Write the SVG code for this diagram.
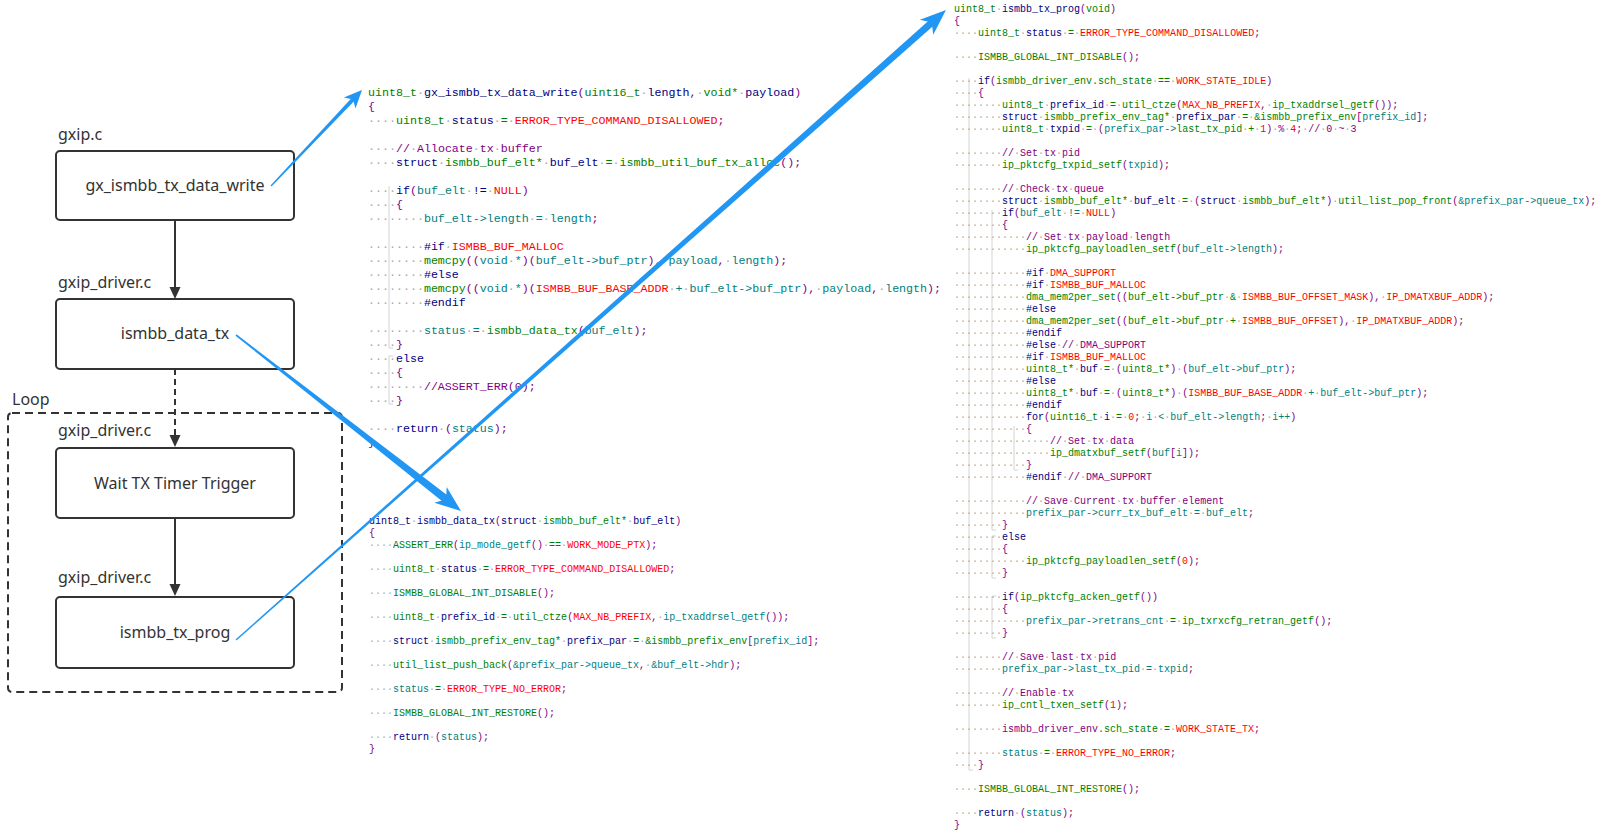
<svg xmlns="http://www.w3.org/2000/svg" width="1600" height="834" viewBox="0 0 1600 834">
<style>
.lbl{font-family:"Noto Sans","Liberation Sans",sans-serif;font-size:16px;fill:#333}
.ctr{text-anchor:middle}
.box{fill:#fff;stroke:#333;stroke-width:2}
.c1{font-family:"Liberation Mono","DejaVu Sans Mono",monospace;font-size:11.65px;fill:#000080}
.c2{font-family:"Liberation Mono","DejaVu Sans Mono",monospace;font-size:10px;fill:#000080}
.g{fill:#008000}.t{fill:#008080}.p{fill:#800080}.r{fill:#ff0000}.w{fill:#a8a8a8}
.guide{fill:none;stroke:#d4d4d4;stroke-width:1}
.blue{fill:#2196f3}
.dk{stroke:#333;stroke-width:2;fill:none}
.dkh{fill:#333}
</style>

<!-- left flow -->
<g id="loop">
<rect x="8" y="413" width="334" height="279" rx="4" fill="none" stroke="#333" stroke-width="2" stroke-dasharray="8 5"/>
<text class="lbl" x="12" y="405">Loop</text>
</g>
<g id="node-write">
<text class="lbl" x="58" y="140">gxip.c</text>
<rect class="box" x="56" y="151" width="238" height="69" rx="4"/>
<text class="lbl ctr" x="175" y="191">gx_ismbb_tx_data_write</text>
</g>
<g id="node-datatx">
<text class="lbl" x="58" y="288">gxip_driver.c</text>
<rect class="box" x="56" y="299" width="238" height="70" rx="4"/>
<text class="lbl ctr" x="175" y="339">ismbb_data_tx</text>
</g>
<g id="node-wait">
<text class="lbl" x="58" y="436">gxip_driver.c</text>
<rect class="box" x="56" y="448" width="238" height="70" rx="4"/>
<text class="lbl ctr" x="175" y="489">Wait TX Timer Trigger</text>
</g>
<g id="node-prog">
<text class="lbl" x="58" y="583">gxip_driver.c</text>
<rect class="box" x="56" y="597" width="238" height="71" rx="4"/>
<text class="lbl ctr" x="175" y="638">ismbb_tx_prog</text>
</g>

<!-- code block 1 -->
<g id="code-write" class="c1">
<path class="guide" d="M389,186V348H393M393,356H389V404H393"/>
<text x="368" y="96"><tspan class="g">uint8_t</tspan><tspan class="w">·</tspan>gx_ismbb_tx_data_write<tspan class="p">(</tspan><tspan class="g">uint16_t</tspan><tspan class="w">·</tspan>length<tspan class="p">,</tspan><tspan class="w">·</tspan><tspan class="g">void*</tspan><tspan class="w">·</tspan>payload<tspan class="p">)</tspan></text>
<text x="368" y="110"><tspan class="p">{</tspan></text>
<text x="368" y="124"><tspan class="w">····</tspan><tspan class="g">uint8_t</tspan><tspan class="w">·</tspan>status<tspan class="w">·</tspan><tspan class="g">=</tspan><tspan class="w">·</tspan><tspan class="r">ERROR_TYPE_COMMAND_DISALLOWED</tspan><tspan class="p">;</tspan></text>
<text x="368" y="152"><tspan class="w">····</tspan><tspan class="p">//<tspan class="w">·</tspan>Allocate<tspan class="w">·</tspan>tx<tspan class="w">·</tspan>buffer</tspan></text>
<text x="368" y="166"><tspan class="w">····</tspan>struct<tspan class="w">·</tspan><tspan class="g">ismbb_buf_elt*</tspan><tspan class="w">·</tspan>buf_elt<tspan class="w">·</tspan><tspan class="g">=</tspan><tspan class="w">·</tspan><tspan class="g">ismbb_util_buf_tx_alloc</tspan><tspan class="p">();</tspan></text>
<text x="368" y="194"><tspan class="w">····</tspan>if<tspan class="p">(</tspan><tspan class="t">buf_elt</tspan><tspan class="w">·</tspan>!=<tspan class="w">·</tspan><tspan class="r">NULL</tspan><tspan class="p">)</tspan></text>
<text x="368" y="208"><tspan class="w">····</tspan><tspan class="p">{</tspan></text>
<text x="368" y="222"><tspan class="w">········</tspan><tspan class="t">buf_elt-&gt;length</tspan><tspan class="w">·</tspan><tspan class="t">=</tspan><tspan class="w">·</tspan><tspan class="t">length</tspan><tspan class="p">;</tspan></text>
<text x="368" y="250"><tspan class="w">········</tspan>#if<tspan class="w">·</tspan><tspan class="r">ISMBB_BUF_MALLOC</tspan></text>
<text x="368" y="264"><tspan class="w">········</tspan><tspan class="g">memcpy</tspan><tspan class="p">((</tspan><tspan class="t">void</tspan><tspan class="w">·</tspan><tspan class="t">*</tspan><tspan class="p">)(</tspan><tspan class="t">buf_elt-&gt;buf_ptr</tspan><tspan class="p">),</tspan><tspan class="w">·</tspan><tspan class="t">payload</tspan><tspan class="p">,</tspan><tspan class="w">·</tspan><tspan class="t">length</tspan><tspan class="p">);</tspan></text>
<text x="368" y="278"><tspan class="w">········</tspan>#else</text>
<text x="368" y="292"><tspan class="w">········</tspan><tspan class="g">memcpy</tspan><tspan class="p">((</tspan><tspan class="t">void</tspan><tspan class="w">·</tspan><tspan class="t">*</tspan><tspan class="p">)(</tspan><tspan class="r">ISMBB_BUF_BASE_ADDR</tspan><tspan class="w">·</tspan><tspan class="t">+</tspan><tspan class="w">·</tspan><tspan class="t">buf_elt-&gt;buf_ptr</tspan><tspan class="p">),</tspan><tspan class="w">·</tspan><tspan class="t">payload</tspan><tspan class="p">,</tspan><tspan class="w">·</tspan><tspan class="t">length</tspan><tspan class="p">);</tspan></text>
<text x="368" y="306"><tspan class="w">········</tspan>#endif</text>
<text x="368" y="334"><tspan class="w">········</tspan><tspan class="t">status</tspan><tspan class="w">·</tspan><tspan class="t">=</tspan><tspan class="w">·</tspan><tspan class="g">ismbb_data_tx</tspan><tspan class="p">(</tspan><tspan class="t">buf_elt</tspan><tspan class="p">);</tspan></text>
<text x="368" y="348"><tspan class="w">····</tspan><tspan class="p">}</tspan></text>
<text x="368" y="362"><tspan class="w">····</tspan>else</text>
<text x="368" y="376"><tspan class="w">····</tspan><tspan class="p">{</tspan></text>
<text x="368" y="390"><tspan class="w">········</tspan><tspan class="p">//ASSERT_ERR(0);</tspan></text>
<text x="368" y="404"><tspan class="w">····</tspan><tspan class="p">}</tspan></text>
<text x="368" y="432"><tspan class="w">····</tspan>return<tspan class="w">·</tspan><tspan class="p">(</tspan><tspan class="t">status</tspan><tspan class="p">);</tspan></text>
<text x="368" y="446"><tspan class="p">}</tspan></text>
</g>

<!-- code block 2 -->
<g id="code-datatx" class="c2">
<text x="369" y="524">uint8_t<tspan class="w">·</tspan>ismbb_data_tx<tspan class="p">(</tspan>struct<tspan class="w">·</tspan><tspan class="g">ismbb_buf_elt*</tspan><tspan class="w">·</tspan>buf_elt<tspan class="p">)</tspan></text>
<text x="369" y="536"><tspan class="p">{</tspan></text>
<text x="369" y="548"><tspan class="w">····</tspan><tspan class="g">ASSERT_ERR</tspan><tspan class="p">(</tspan><tspan class="t">ip_mode_getf</tspan><tspan class="p">()</tspan><tspan class="w">·</tspan><tspan class="g">==</tspan><tspan class="w">·</tspan><tspan class="r">WORK_MODE_PTX</tspan><tspan class="p">);</tspan></text>
<text x="369" y="572"><tspan class="w">····</tspan><tspan class="g">uint8_t</tspan><tspan class="w">·</tspan>status<tspan class="w">·</tspan><tspan class="g">=</tspan><tspan class="w">·</tspan><tspan class="r">ERROR_TYPE_COMMAND_DISALLOWED</tspan><tspan class="p">;</tspan></text>
<text x="369" y="596"><tspan class="w">····</tspan><tspan class="g">ISMBB_GLOBAL_INT_DISABLE</tspan><tspan class="p">();</tspan></text>
<text x="369" y="620"><tspan class="w">····</tspan><tspan class="g">uint8_t</tspan><tspan class="w">·</tspan>prefix_id<tspan class="w">·</tspan><tspan class="g">=</tspan><tspan class="w">·</tspan><tspan class="g">util_ctze</tspan><tspan class="p">(</tspan><tspan class="r">MAX_NB_PREFIX</tspan><tspan class="p">,</tspan><tspan class="w">·</tspan><tspan class="t">ip_txaddrsel_getf</tspan><tspan class="p">());</tspan></text>
<text x="369" y="644"><tspan class="w">····</tspan>struct<tspan class="w">·</tspan><tspan class="g">ismbb_prefix_env_tag*</tspan><tspan class="w">·</tspan>prefix_par<tspan class="w">·</tspan><tspan class="g">=</tspan><tspan class="w">·</tspan><tspan class="g">&amp;ismbb_prefix_env</tspan><tspan class="p">[</tspan><tspan class="t">prefix_id</tspan><tspan class="p">];</tspan></text>
<text x="369" y="668"><tspan class="w">····</tspan><tspan class="g">util_list_push_back</tspan><tspan class="p">(</tspan><tspan class="t">&amp;prefix_par-&gt;queue_tx</tspan><tspan class="p">,</tspan><tspan class="w">·</tspan><tspan class="t">&amp;buf_elt-&gt;hdr</tspan><tspan class="p">);</tspan></text>
<text x="369" y="692"><tspan class="w">····</tspan><tspan class="t">status</tspan><tspan class="w">·</tspan><tspan class="g">=</tspan><tspan class="w">·</tspan><tspan class="r">ERROR_TYPE_NO_ERROR</tspan><tspan class="p">;</tspan></text>
<text x="369" y="716"><tspan class="w">····</tspan><tspan class="g">ISMBB_GLOBAL_INT_RESTORE</tspan><tspan class="p">();</tspan></text>
<text x="369" y="740"><tspan class="w">····</tspan>return<tspan class="w">·</tspan><tspan class="p">(</tspan><tspan class="t">status</tspan><tspan class="p">);</tspan></text>
<text x="369" y="752"><tspan class="p">}</tspan></text>
</g>

<!-- code block 3 -->
<g id="code-prog" class="c2">
<path class="guide" d="M969,78V770H973M992,210V530H996M996,536H992V578H996M996,596H992V638H996M1014,426V470H1018"/>
<text x="954" y="12"><tspan class="g">uint8_t</tspan><tspan class="w">·</tspan>ismbb_tx_prog<tspan class="p">(</tspan><tspan class="g">void</tspan><tspan class="p">)</tspan></text>
<text x="954" y="24"><tspan class="p">{</tspan></text>
<text x="954" y="36"><tspan class="w">····</tspan><tspan class="g">uint8_t</tspan><tspan class="w">·</tspan>status<tspan class="w">·</tspan><tspan class="g">=</tspan><tspan class="w">·</tspan><tspan class="r">ERROR_TYPE_COMMAND_DISALLOWED</tspan><tspan class="p">;</tspan></text>
<text x="954" y="60"><tspan class="w">····</tspan><tspan class="g">ISMBB_GLOBAL_INT_DISABLE</tspan><tspan class="p">();</tspan></text>
<text x="954" y="84"><tspan class="w">····</tspan>if<tspan class="p">(</tspan><tspan class="g">ismbb_driver_env.sch_state</tspan><tspan class="w">·</tspan><tspan class="g">==</tspan><tspan class="w">·</tspan><tspan class="r">WORK_STATE_IDLE</tspan><tspan class="p">)</tspan></text>
<text x="954" y="96"><tspan class="w">····</tspan><tspan class="p">{</tspan></text>
<text x="954" y="108"><tspan class="w">········</tspan><tspan class="g">uint8_t</tspan><tspan class="w">·</tspan>prefix_id<tspan class="w">·</tspan><tspan class="g">=</tspan><tspan class="w">·</tspan><tspan class="g">util_ctze</tspan><tspan class="p">(</tspan><tspan class="r">MAX_NB_PREFIX</tspan><tspan class="p">,</tspan><tspan class="w">·</tspan><tspan class="g">ip_txaddrsel_getf</tspan><tspan class="p">());</tspan></text>
<text x="954" y="120"><tspan class="w">········</tspan>struct<tspan class="w">·</tspan><tspan class="g">ismbb_prefix_env_tag*</tspan><tspan class="w">·</tspan>prefix_par<tspan class="w">·</tspan><tspan class="g">=</tspan><tspan class="w">·</tspan><tspan class="g">&amp;ismbb_prefix_env</tspan><tspan class="p">[</tspan><tspan class="t">prefix_id</tspan><tspan class="p">];</tspan></text>
<text x="954" y="132"><tspan class="w">········</tspan><tspan class="g">uint8_t</tspan><tspan class="w">·</tspan>txpid<tspan class="w">·</tspan><tspan class="g">=</tspan><tspan class="w">·</tspan><tspan class="p">(</tspan><tspan class="t">prefix_par-&gt;</tspan><tspan class="g">last_tx_pid</tspan><tspan class="w">·</tspan><tspan class="g">+</tspan><tspan class="w">·</tspan><tspan class="r">1</tspan><tspan class="p">)</tspan><tspan class="w">·</tspan><tspan class="p">%</tspan><tspan class="w">·</tspan><tspan class="r">4</tspan><tspan class="p">;</tspan><tspan class="w">·</tspan><tspan class="p">//<tspan class="w">·</tspan>0<tspan class="w">·</tspan>~<tspan class="w">·</tspan>3</tspan></text>
<text x="954" y="156"><tspan class="w">········</tspan><tspan class="p">//<tspan class="w">·</tspan>Set<tspan class="w">·</tspan>tx<tspan class="w">·</tspan>pid</tspan></text>
<text x="954" y="168"><tspan class="w">········</tspan><tspan class="g">ip_pktcfg_txpid_setf</tspan><tspan class="p">(</tspan><tspan class="t">txpid</tspan><tspan class="p">);</tspan></text>
<text x="954" y="192"><tspan class="w">········</tspan><tspan class="p">//<tspan class="w">·</tspan>Check<tspan class="w">·</tspan>tx<tspan class="w">·</tspan>queue</tspan></text>
<text x="954" y="204"><tspan class="w">········</tspan>struct<tspan class="w">·</tspan><tspan class="g">ismbb_buf_elt*</tspan><tspan class="w">·</tspan>buf_elt<tspan class="w">·</tspan><tspan class="g">=</tspan><tspan class="w">·</tspan><tspan class="p">(</tspan>struct<tspan class="w">·</tspan><tspan class="g">ismbb_buf_elt*</tspan><tspan class="p">)</tspan><tspan class="w">·</tspan><tspan class="g">util_list_pop_front</tspan><tspan class="p">(</tspan><tspan class="t">&amp;prefix_par-&gt;queue_tx</tspan><tspan class="p">);</tspan></text>
<text x="954" y="216"><tspan class="w">········</tspan>if<tspan class="p">(</tspan><tspan class="t">buf_elt</tspan><tspan class="w">·</tspan><tspan class="t">!=</tspan><tspan class="w">·</tspan><tspan class="r">NULL</tspan><tspan class="p">)</tspan></text>
<text x="954" y="228"><tspan class="w">········</tspan><tspan class="p">{</tspan></text>
<text x="954" y="240"><tspan class="w">············</tspan><tspan class="p">//<tspan class="w">·</tspan>Set<tspan class="w">·</tspan>tx<tspan class="w">·</tspan>payload<tspan class="w">·</tspan>length</tspan></text>
<text x="954" y="252"><tspan class="w">············</tspan><tspan class="g">ip_pktcfg_payloadlen_setf</tspan><tspan class="p">(</tspan><tspan class="t">buf_elt-&gt;length</tspan><tspan class="p">);</tspan></text>
<text x="954" y="276"><tspan class="w">············</tspan>#if<tspan class="w">·</tspan><tspan class="r">DMA_SUPPORT</tspan></text>
<text x="954" y="288"><tspan class="w">············</tspan>#if<tspan class="w">·</tspan><tspan class="r">ISMBB_BUF_MALLOC</tspan></text>
<text x="954" y="300"><tspan class="w">············</tspan><tspan class="g">dma_mem2per_set</tspan><tspan class="p">((</tspan><tspan class="g">buf_elt-&gt;buf_ptr</tspan><tspan class="w">·</tspan><tspan class="g">&amp;</tspan><tspan class="w">·</tspan><tspan class="r">ISMBB_BUF_OFFSET_MASK</tspan><tspan class="p">),</tspan><tspan class="w">·</tspan><tspan class="r">IP_DMATXBUF_ADDR</tspan><tspan class="p">);</tspan></text>
<text x="954" y="312"><tspan class="w">············</tspan>#else</text>
<text x="954" y="324"><tspan class="w">············</tspan><tspan class="g">dma_mem2per_set</tspan><tspan class="p">((</tspan><tspan class="g">buf_elt-&gt;buf_ptr</tspan><tspan class="w">·</tspan><tspan class="g">+</tspan><tspan class="w">·</tspan><tspan class="r">ISMBB_BUF_OFFSET</tspan><tspan class="p">),</tspan><tspan class="w">·</tspan><tspan class="r">IP_DMATXBUF_ADDR</tspan><tspan class="p">);</tspan></text>
<text x="954" y="336"><tspan class="w">············</tspan>#endif</text>
<text x="954" y="348"><tspan class="w">············</tspan>#else<tspan class="w">·</tspan><tspan class="p">//<tspan class="w">·</tspan>DMA_SUPPORT</tspan></text>
<text x="954" y="360"><tspan class="w">············</tspan>#if<tspan class="w">·</tspan><tspan class="r">ISMBB_BUF_MALLOC</tspan></text>
<text x="954" y="372"><tspan class="w">············</tspan><tspan class="g">uint8_t*</tspan><tspan class="w">·</tspan>buf<tspan class="w">·</tspan><tspan class="g">=</tspan><tspan class="w">·</tspan><tspan class="p">(</tspan><tspan class="g">uint8_t*</tspan><tspan class="p">)</tspan><tspan class="w">·</tspan><tspan class="p">(</tspan><tspan class="t">buf_elt-&gt;buf_ptr</tspan><tspan class="p">);</tspan></text>
<text x="954" y="384"><tspan class="w">············</tspan>#else</text>
<text x="954" y="396"><tspan class="w">············</tspan><tspan class="g">uint8_t*</tspan><tspan class="w">·</tspan>buf<tspan class="w">·</tspan><tspan class="g">=</tspan><tspan class="w">·</tspan><tspan class="p">(</tspan><tspan class="g">uint8_t*</tspan><tspan class="p">)</tspan><tspan class="w">·</tspan><tspan class="p">(</tspan><tspan class="r">ISMBB_BUF_BASE_ADDR</tspan><tspan class="w">·</tspan><tspan class="t">+</tspan><tspan class="w">·</tspan><tspan class="t">buf_elt-&gt;buf_ptr</tspan><tspan class="p">);</tspan></text>
<text x="954" y="408"><tspan class="w">············</tspan>#endif</text>
<text x="954" y="420"><tspan class="w">············</tspan>for<tspan class="p">(</tspan><tspan class="g">uint16_t</tspan><tspan class="w">·</tspan>i<tspan class="w">·</tspan><tspan class="g">=</tspan><tspan class="w">·</tspan><tspan class="r">0</tspan><tspan class="p">;</tspan><tspan class="w">·</tspan><tspan class="t">i</tspan><tspan class="w">·</tspan><tspan class="t">&lt;</tspan><tspan class="w">·</tspan><tspan class="t">buf_elt-&gt;length</tspan><tspan class="p">;</tspan><tspan class="w">·</tspan><tspan class="t">i++</tspan><tspan class="p">)</tspan></text>
<text x="954" y="432"><tspan class="w">············</tspan><tspan class="p">{</tspan></text>
<text x="954" y="444"><tspan class="w">················</tspan><tspan class="p">//<tspan class="w">·</tspan>Set<tspan class="w">·</tspan>tx<tspan class="w">·</tspan>data</tspan></text>
<text x="954" y="456"><tspan class="w">················</tspan><tspan class="g">ip_dmatxbuf_setf</tspan><tspan class="p">(</tspan><tspan class="t">buf</tspan><tspan class="p">[</tspan><tspan class="t">i</tspan><tspan class="p">]);</tspan></text>
<text x="954" y="468"><tspan class="w">············</tspan><tspan class="p">}</tspan></text>
<text x="954" y="480"><tspan class="w">············</tspan>#endif<tspan class="w">·</tspan><tspan class="p">//<tspan class="w">·</tspan>DMA_SUPPORT</tspan></text>
<text x="954" y="504"><tspan class="w">············</tspan><tspan class="p">//<tspan class="w">·</tspan>Save<tspan class="w">·</tspan>Current<tspan class="w">·</tspan>tx<tspan class="w">·</tspan>buffer<tspan class="w">·</tspan>element</tspan></text>
<text x="954" y="516"><tspan class="w">············</tspan><tspan class="t">prefix_par-&gt;curr_tx_buf_elt</tspan><tspan class="w">·</tspan><tspan class="t">=</tspan><tspan class="w">·</tspan><tspan class="t">buf_elt</tspan><tspan class="p">;</tspan></text>
<text x="954" y="528"><tspan class="w">········</tspan><tspan class="p">}</tspan></text>
<text x="954" y="540"><tspan class="w">········</tspan>else</text>
<text x="954" y="552"><tspan class="w">········</tspan><tspan class="p">{</tspan></text>
<text x="954" y="564"><tspan class="w">············</tspan><tspan class="g">ip_pktcfg_payloadlen_setf</tspan><tspan class="p">(</tspan><tspan class="r">0</tspan><tspan class="p">);</tspan></text>
<text x="954" y="576"><tspan class="w">········</tspan><tspan class="p">}</tspan></text>
<text x="954" y="600"><tspan class="w">········</tspan>if<tspan class="p">(</tspan><tspan class="g">ip_pktcfg_acken_getf</tspan><tspan class="p">())</tspan></text>
<text x="954" y="612"><tspan class="w">········</tspan><tspan class="p">{</tspan></text>
<text x="954" y="624"><tspan class="w">············</tspan><tspan class="t">prefix_par-&gt;retrans_cnt</tspan><tspan class="w">·</tspan><tspan class="g">=</tspan><tspan class="w">·</tspan><tspan class="g">ip_txrxcfg_retran_getf</tspan><tspan class="p">();</tspan></text>
<text x="954" y="636"><tspan class="w">········</tspan><tspan class="p">}</tspan></text>
<text x="954" y="660"><tspan class="w">········</tspan><tspan class="p">//<tspan class="w">·</tspan>Save<tspan class="w">·</tspan>last<tspan class="w">·</tspan>tx<tspan class="w">·</tspan>pid</tspan></text>
<text x="954" y="672"><tspan class="w">········</tspan><tspan class="t">prefix_par-&gt;last_tx_pid</tspan><tspan class="w">·</tspan><tspan class="t">=</tspan><tspan class="w">·</tspan><tspan class="t">txpid</tspan><tspan class="p">;</tspan></text>
<text x="954" y="696"><tspan class="w">········</tspan><tspan class="p">//<tspan class="w">·</tspan>Enable<tspan class="w">·</tspan>tx</tspan></text>
<text x="954" y="708"><tspan class="w">········</tspan><tspan class="g">ip_cntl_txen_setf</tspan><tspan class="p">(</tspan><tspan class="r">1</tspan><tspan class="p">);</tspan></text>
<text x="954" y="732"><tspan class="w">········</tspan><tspan class="p">ismbb_driver_env</tspan><tspan class="g">.sch_state</tspan><tspan class="w">·</tspan><tspan class="g">=</tspan><tspan class="w">·</tspan><tspan class="r">WORK_STATE_TX</tspan><tspan class="p">;</tspan></text>
<text x="954" y="756"><tspan class="w">········</tspan><tspan class="t">status</tspan><tspan class="w">·</tspan><tspan class="g">=</tspan><tspan class="w">·</tspan><tspan class="r">ERROR_TYPE_NO_ERROR</tspan><tspan class="p">;</tspan></text>
<text x="954" y="768"><tspan class="w">····</tspan><tspan class="p">}</tspan></text>
<text x="954" y="792"><tspan class="w">····</tspan><tspan class="g">ISMBB_GLOBAL_INT_RESTORE</tspan><tspan class="p">();</tspan></text>
<text x="954" y="816"><tspan class="w">····</tspan>return<tspan class="w">·</tspan><tspan class="p">(</tspan><tspan class="t">status</tspan><tspan class="p">);</tspan></text>
<text x="954" y="828"><tspan class="p">}</tspan></text>
</g>

<!-- connectors -->
<g id="connectors">
<line class="dk" x1="175" y1="220" x2="175" y2="288"/>
<polygon class="dkh" points="175,299 169.5,287 180.5,287"/>
<line class="dk" x1="175" y1="369" x2="175" y2="436" stroke-dasharray="6 4"/>
<polygon class="dkh" points="175,447 169.5,435 180.5,435"/>
<line class="dk" x1="175" y1="518" x2="175" y2="585"/>
<polygon class="dkh" points="175,596 169.5,584 180.5,584"/>

<polygon class="blue" points="271.51,186.48 355.23,100.11 352.31,97.37 270.49,185.52"/>
<polygon class="blue" points="362,90 355.47,108.59 353.08,99.46 343.83,97.61"/>

<polygon class="blue" points="235.51,335.63 444.36,503.06 449.28,496.76 236.49,334.37"/>
<polygon class="blue" points="461,511 434.36,502.86 446.03,499.29 446.68,487.10"/>

<polygon class="blue" points="236.46,640.52 934.86,24.57 930.22,19.33 235.54,639.48"/>
<polygon class="blue" points="946,10 933.19,34.74 931.79,22.61 919.91,19.78"/>
</g>
</svg>
